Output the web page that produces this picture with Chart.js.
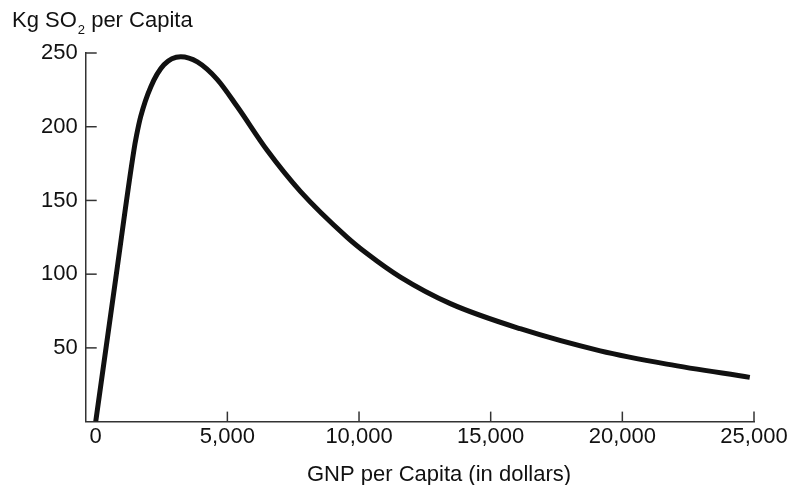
<!DOCTYPE html>
<html>
<head>
<meta charset="utf-8">
<title>SO2 per capita vs GNP per capita</title>
<script src="https://cdn.jsdelivr.net/npm/chart.js@4"></script>
<style>
  html, body { margin: 0; padding: 0; background: #fff; }
  #wrap { width: 789px; height: 485px; }
</style>
</head>
<body>
<div id="wrap"><canvas id="so2Chart" width="789" height="485"></canvas></div>
<script>
// ═══════════════════════════════════════════════════════════════════════════
// ─── DATA
// ═══════════════════════════════════════════════════════════════════════════
const gnpPerCapita = [0, 760, 1450, 1550, 1710, 2090, 2590, 3230, 3860, 4620, 5380, 6510, 7780, 9550, 10300, 11570, 13470, 16120, 19160, 21690, 24840];
const so2PerCapita = [0, 97, 184, 194, 207, 227, 242, 247.5, 244, 232, 213.5, 184, 156, 125, 114, 98, 80, 63, 48, 39, 30];

const xTickValues = [0, 5000, 10000, 15000, 20000, 25000];
const yTickValues = [50, 100, 150, 200, 250];

const yTitleParts = ['Kg SO', '2', ' per Capita'];
const xTitle = 'GNP per Capita (in dollars)';

const FONT_FAMILY = '"Liberation Sans", Arial, Helvetica, sans-serif';
const INK = '#111';
const AXIS = '#333';

// ═══════════════════════════════════════════════════════════════════════════
// ─── INWARD TICK MARKS + AXIS TITLES
// ═══════════════════════════════════════════════════════════════════════════
const axisDecor = {
  id: 'axisDecor',
  afterDraw(chart) {
    const { ctx, chartArea, scales: { x, y } } = chart;
    ctx.save();
    ctx.strokeStyle = AXIS;
    ctx.lineWidth = 1.5;

    // x ticks point up into the plot
    xTickValues.filter(v => v > 0).forEach(v => {
      const px = x.getPixelForValue(v);
      ctx.beginPath();
      ctx.moveTo(px, chartArea.bottom);
      ctx.lineTo(px, chartArea.bottom - 10);
      ctx.stroke();
    });

    // y ticks point right into the plot
    yTickValues.forEach(v => {
      const py = y.getPixelForValue(v);
      ctx.beginPath();
      ctx.moveTo(chartArea.left, py);
      ctx.lineTo(chartArea.left + 11, py);
      ctx.stroke();
    });

    // y title with subscript 2
    ctx.fillStyle = INK;
    ctx.textBaseline = 'alphabetic';
    ctx.textAlign = 'left';
    let tx = 12;
    ctx.font = '22px ' + FONT_FAMILY;
    ctx.fillText(yTitleParts[0], tx, 27);
    tx += ctx.measureText(yTitleParts[0]).width + 1;
    ctx.font = '13px ' + FONT_FAMILY;
    ctx.fillText(yTitleParts[1], tx, 34);
    tx += ctx.measureText(yTitleParts[1]).width;
    ctx.font = '22px ' + FONT_FAMILY;
    ctx.fillText(yTitleParts[2], tx, 27);

    // x title
    ctx.textAlign = 'center';
    ctx.fillText(xTitle, 439, 481);
    ctx.restore();
  }
};

// ═══════════════════════════════════════════════════════════════════════════
// ─── CHART
// ═══════════════════════════════════════════════════════════════════════════
const ctxSo2 = document.getElementById('so2Chart').getContext('2d');
const so2Chart = new Chart(ctxSo2, {
  type: 'line',
  data: {
    datasets: [{
      label: 'Kg SO2 per Capita',
      data: gnpPerCapita.map((g, i) => ({ x: g, y: so2PerCapita[i] })),
      borderColor: INK,
      borderWidth: 5,
      pointRadius: 0,
      fill: false,
      cubicInterpolationMode: 'monotone'
    }]
  },
  options: {
    responsive: false,
    animation: false,
    devicePixelRatio: 1,
    layout: { padding: { left: 33, right: 35, top: 53, bottom: 33 } },
    plugins: {
      legend: { display: false },
      tooltip: { enabled: false }
    },
    scales: {
      x: {
        type: 'linear',
        min: -380,
        max: 25000,
        afterBuildTicks: (scale) => { scale.ticks = xTickValues.map(value => ({ value })); },
        afterFit: (scale) => { scale.paddingLeft = 0; scale.paddingRight = 0; },
        grid: { drawOnChartArea: false, drawTicks: false },
        border: { display: true, color: AXIS, width: 1.5 },
        ticks: {
          color: INK,
          padding: 2,
          maxRotation: 0,
          font: { family: FONT_FAMILY, size: 22 },
          callback: (value) => value.toLocaleString('en-US')
        }
      },
      y: {
        type: 'linear',
        min: 0,
        max: 250,
        afterBuildTicks: (scale) => { scale.ticks = yTickValues.map(value => ({ value })); },
        grid: { drawOnChartArea: false, drawTicks: false },
        border: { display: true, color: AXIS, width: 1.5 },
        ticks: {
          color: INK,
          padding: 8,
          font: { family: FONT_FAMILY, size: 22 }
        }
      }
    }
  },
  plugins: [axisDecor]
});
</script>
</body>
</html>
